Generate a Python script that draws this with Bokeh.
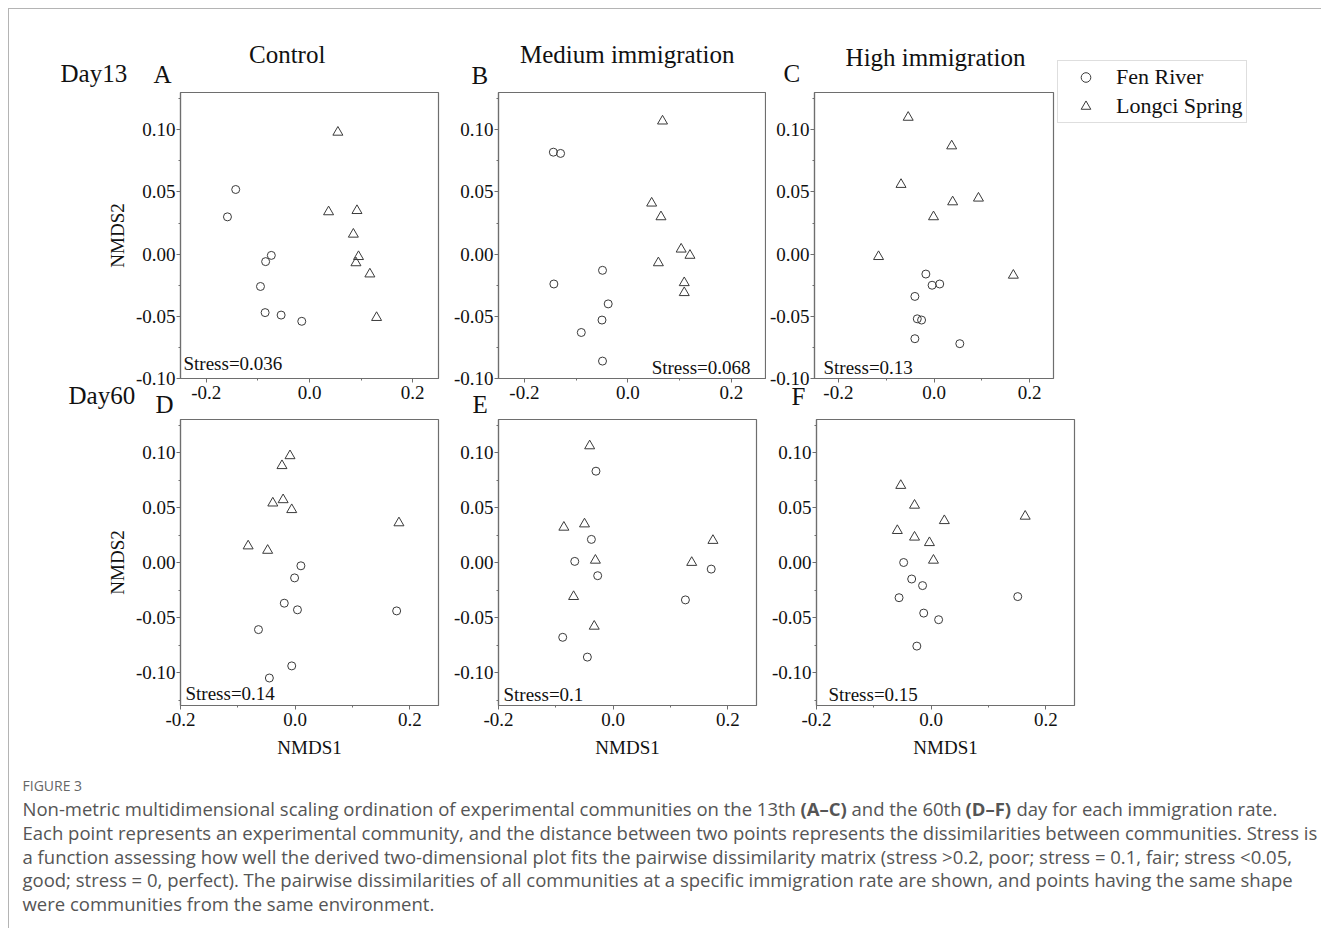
from bokeh.plotting import figure
from bokeh.layouts import column, row
from bokeh.models import Label, Legend, LegendItem, FixedTicker, PrintfTickFormatter, Range1d, Spacer
from bokeh.embed import file_html
from bokeh.resources import INLINE

# ---------------- data ----------------
groups = ["Fen River", "Longci Spring"]
col_titles = ["Control", "Medium immigration", "High immigration"]
day_labels = ["Day13", "Day60"]
panel_letters = ["A", "B", "C", "D", "E", "F"]
stress_texts = ["Stress=0.036", "Stress=0.068", "Stress=0.13", "Stress=0.14", "Stress=0.1", "Stress=0.15"]
x_axis_title = "NMDS1"
y_axis_title = "NMDS2"

x_ticks = [-0.2, 0.0, 0.2]
x_minor = [-0.1, 0.1]
y_ticks = [-0.10, -0.05, 0.00, 0.05, 0.10]
y_minor = [-0.125, -0.075, -0.025, 0.025, 0.075, 0.125]

# Panel A (Day13, Control)
a_fen_x = [-0.143, -0.159, -0.074, -0.085, -0.095, -0.086, -0.055, -0.015]
a_fen_y = [0.052, 0.030, -0.001, -0.006, -0.026, -0.047, -0.049, -0.054]
a_lon_x = [0.055, 0.037, 0.092, 0.085, 0.095, 0.090, 0.117, 0.130]
a_lon_y = [0.098, 0.034, 0.035, 0.016, -0.002, -0.007, -0.016, -0.051]
# Panel B (Day13, Medium)
b_fen_x = [-0.144, -0.130, -0.143, -0.049, -0.038, -0.050, -0.090, -0.049]
b_fen_y = [0.082, 0.081, -0.024, -0.013, -0.040, -0.053, -0.063, -0.086]
b_lon_x = [0.067, 0.046, 0.064, 0.103, 0.120, 0.059, 0.109, 0.109]
b_lon_y = [0.107, 0.041, 0.030, 0.004, -0.001, -0.007, -0.023, -0.031]
# Panel C (Day13, High)
c_fen_x = [-0.017, -0.004, 0.012, -0.040, -0.035, -0.026, -0.040, 0.054]
c_fen_y = [-0.016, -0.025, -0.024, -0.034, -0.052, -0.053, -0.068, -0.072]
c_lon_x = [-0.054, 0.037, -0.069, 0.039, 0.093, -0.001, -0.116, 0.166]
c_lon_y = [0.110, 0.087, 0.056, 0.042, 0.045, 0.030, -0.002, -0.017]
# Panel D (Day60, Control)
d_fen_x = [0.010, -0.001, -0.019, 0.004, 0.177, -0.064, -0.006, -0.045]
d_fen_y = [-0.003, -0.014, -0.037, -0.043, -0.044, -0.061, -0.094, -0.105]
d_lon_x = [-0.009, -0.023, -0.039, -0.021, -0.006, 0.181, -0.082, -0.048]
d_lon_y = [0.097, 0.088, 0.054, 0.057, 0.048, 0.036, 0.015, 0.011]
# Panel E (Day60, Medium)
e_fen_x = [-0.030, -0.038, -0.067, -0.027, 0.126, 0.171, -0.088, -0.045]
e_fen_y = [0.083, 0.021, 0.001, -0.012, -0.034, -0.006, -0.068, -0.086]
e_lon_x = [-0.041, -0.086, -0.050, -0.031, -0.069, -0.033, 0.137, 0.174]
e_lon_y = [0.106, 0.032, 0.035, 0.002, -0.031, -0.058, 0.000, 0.020]
# Panel F (Day60, High)
f_fen_x = [-0.048, -0.034, -0.015, -0.056, -0.013, 0.013, -0.025, 0.151]
f_fen_y = [0.000, -0.015, -0.021, -0.032, -0.046, -0.052, -0.076, -0.031]
f_lon_x = [-0.053, -0.029, 0.023, -0.059, -0.029, -0.003, 0.004, 0.164]
f_lon_y = [0.070, 0.052, 0.038, 0.029, 0.023, 0.018, 0.002, 0.042]

caption_head = "FIGURE 3"
caption_line1 = ["Non-metric multidimensional scaling ordination of experimental communities on the 13th",
                 "(A\u2013C)", "and the 60th", "(D\u2013F)", "day for each immigration rate."]
caption_lines = [
    "Each point represents an experimental community, and the distance between two points represents the dissimilarities between communities. Stress is",
    "a function assessing how well the derived two-dimensional plot fits the pairwise dissimilarity matrix (stress >0.2, poor; stress = 0.1, fair; stress <0.05,",
    "good; stress = 0, perfect). The pairwise dissimilarities of all communities at a specific immigration rate are shown, and points having the same shape",
    "were communities from the same environment.",
]

# ---------------- styling ----------------
SERIF = "Liberation Serif"
SANS = "Open Sans"
MARK = "#3a3a3a"
FRAME = "#6e6e6e"
TXT = "#111111"
CAPC = "#555555"


def make_panel(fx, fy, lx, ly, xr, yr, geom, xlabel=False, ylabel=False):
    # geom: page coords (fig_left, fig_top, fig_w, fig_h, frame_left, frame_top, frame_w, frame_h)
    fl, ft, fw, fh, frl, frt, frw, frh = geom
    p = figure(width=fw, height=fh, x_range=Range1d(*xr), y_range=Range1d(*yr),
               output_backend="svg", toolbar_location=None,
               min_border_left=frl - fl, min_border_right=fw - (frl - fl) - frw,
               min_border_top=frt - ft, min_border_bottom=fh - (frt - ft) - frh)
    p.grid.visible = False
    p.background_fill_color = "white"
    p.border_fill_color = "white"
    p.outline_line_color = FRAME
    p.outline_line_width = 1.2
    p.scatter(fx, fy, marker="circle", size=8, fill_color=None, line_color=MARK, line_width=1)
    p.scatter(lx, ly, marker="triangle", size=10, fill_color=None, line_color=MARK, line_width=1)
    p.xaxis.ticker = FixedTicker(ticks=x_ticks, minor_ticks=x_minor)
    p.yaxis.ticker = FixedTicker(ticks=y_ticks, minor_ticks=y_minor)
    p.xaxis.formatter = PrintfTickFormatter(format="%.1f")
    p.yaxis.formatter = PrintfTickFormatter(format="%.2f")
    for ax in (p.xaxis[0], p.yaxis[0]):
        ax.major_label_text_font = SERIF
        ax.major_label_text_font_size = "19px"
        ax.major_label_text_color = TXT
        ax.axis_line_color = FRAME
        ax.axis_line_width = 1.2
        ax.major_tick_line_color = FRAME
        ax.minor_tick_line_color = FRAME
        ax.major_tick_in = 0
        ax.major_tick_out = 4
        ax.minor_tick_in = 0
        ax.minor_tick_out = 2
        ax.axis_label_text_font = SERIF
        ax.axis_label_text_font_size = "19px"
        ax.axis_label_text_font_style = "normal"
        ax.axis_label_text_color = TXT
    p.xaxis.major_label_standoff = 3
    p.yaxis.major_label_standoff = 1
    if xlabel:
        p.xaxis.axis_label = x_axis_title
        p.xaxis.axis_label_standoff = 8
    if ylabel:
        p.yaxis.axis_label = y_axis_title
        p.yaxis.axis_label_standoff = 5
    return p


# page-coordinate geometry (content origin at page (9, 9))
gA = (9, 9, 436, 405, 180, 92, 258, 286)
gB = (445, 9, 321, 405, 498, 92, 267, 286)
gC = (766, 9, 555, 405, 812, 92, 241, 286)
gD = (9, 414, 436, 351, 180, 419, 258, 286)
gE = (445, 414, 321, 351, 498, 419, 258, 286)
gF = (766, 414, 555, 351, 816, 419, 258, 286)

pa = make_panel(a_fen_x, a_fen_y, a_lon_x, a_lon_y, (-0.25, 0.25), (-0.10, 0.13), gA, ylabel=True)
pb = make_panel(b_fen_x, b_fen_y, b_lon_x, b_lon_y, (-0.25, 0.266), (-0.10, 0.13), gB)
pc = make_panel(c_fen_x, c_fen_y, c_lon_x, c_lon_y, (-0.25, 0.25), (-0.10, 0.13), gC)
pd = make_panel(d_fen_x, d_fen_y, d_lon_x, d_lon_y, (-0.20, 0.25), (-0.13, 0.13), gD, xlabel=True, ylabel=True)
pe = make_panel(e_fen_x, e_fen_y, e_lon_x, e_lon_y, (-0.20, 0.25), (-0.13, 0.13), gE, xlabel=True)
pf = make_panel(f_fen_x, f_fen_y, f_lon_x, f_lon_y, (-0.20, 0.25), (-0.13, 0.13), gF, xlabel=True)

# ---------------- transparent overlay figure for all free text + legend ----------------
OW, OH = 1312, 919
ov = figure(width=OW, height=OH, x_range=(0, 1), y_range=(0, 1), output_backend="svg",
            toolbar_location=None, x_axis_type=None, y_axis_type=None,
            min_border=0, min_border_left=0, min_border_right=0, min_border_top=0, min_border_bottom=0,
            styles={"position": "absolute", "left": "0px", "top": "0px", "pointer-events": "none"})
ov.grid.visible = False
ov.outline_line_color = None
ov.border_fill_alpha = 0.0
ov.background_fill_alpha = 0.0


def put_text(px, py, text, size, align="left", font=SERIF, color=TXT, style="normal"):
    ov.add_layout(Label(x=px - 9, y=(9 + OH) - py, x_units="screen", y_units="screen",
                        text=text, text_font=font, text_font_size=size, text_align=align,
                        text_baseline="middle", text_color=color, text_font_style=style))


# column titles, day labels, panel letters
put_text(286.7, 54, col_titles[0], "25px", align="center")
put_text(626.7, 54, col_titles[1], "25px", align="center")
put_text(935, 57, col_titles[2], "25px", align="center")
put_text(60, 73, day_labels[0], "25px")
put_text(153, 74, panel_letters[0], "25px")
put_text(471, 75, panel_letters[1], "25px")
put_text(783, 73, panel_letters[2], "25px")
put_text(68, 395, day_labels[1], "25px")
put_text(155, 404, panel_letters[3], "25px")
put_text(472, 404, panel_letters[4], "25px")
put_text(791, 396, panel_letters[5], "25px")

# stress annotations
put_text(183, 363, stress_texts[0], "19px")
put_text(750, 367, stress_texts[1], "19px", align="right")
put_text(823, 367, stress_texts[2], "19px")
put_text(185, 693, stress_texts[3], "19px")
put_text(503, 694, stress_texts[4], "19px")
put_text(828, 694, stress_texts[5], "19px")

# legend (key glyphs come from NaN-positioned renderers so nothing is plotted)
NAN = float("nan")
lg_c = ov.scatter(x=[NAN], y=[NAN], marker="circle", size=8, fill_color=None, line_color=MARK, line_width=1)
lg_t = ov.scatter(x=[NAN], y=[NAN], marker="triangle", size=8, fill_color=None, line_color=MARK, line_width=1)
legend = Legend(items=[LegendItem(label=groups[0], renderers=[lg_c]),
                       LegendItem(label=groups[1], renderers=[lg_t])],
                location=(1057 - 9, (9 + OH) - 123), orientation="vertical",
                label_text_font=SERIF, label_text_font_size="22px", label_text_color=TXT,
                glyph_width=49, glyph_height=24, label_height=20, label_standoff=6,
                padding=3, spacing=3, margin=0,
                border_line_color="#bdbdbd", border_line_width=1,
                background_fill_color="white", background_fill_alpha=1.0)
ov.add_layout(legend)

# caption
put_text(22, 785, caption_head, "14px", font=SANS, color="#666666")
seg_x = [22, 800, 851, 965, 1016]
for i, seg in enumerate(caption_line1):
    put_text(seg_x[i], 808, seg, "18.5px", font=SANS, color=CAPC,
             style="bold" if i in (1, 3) else "normal")
for i, line in enumerate(caption_lines):
    put_text(22, 832 + i * 23.5, line, "18.5px", font=SANS, color=CAPC)

layout = column(row(pa, pb, pc), row(pd, pe, pf), Spacer(width=OW, height=163), ov,
                styles={"position": "relative", "margin-left": "8px", "margin-top": "8px",
                        "border-top": "1px solid #b4b4b4", "border-left": "1px solid #b4b4b4"})

open("out.html", "w").write(file_html(layout, INLINE))
